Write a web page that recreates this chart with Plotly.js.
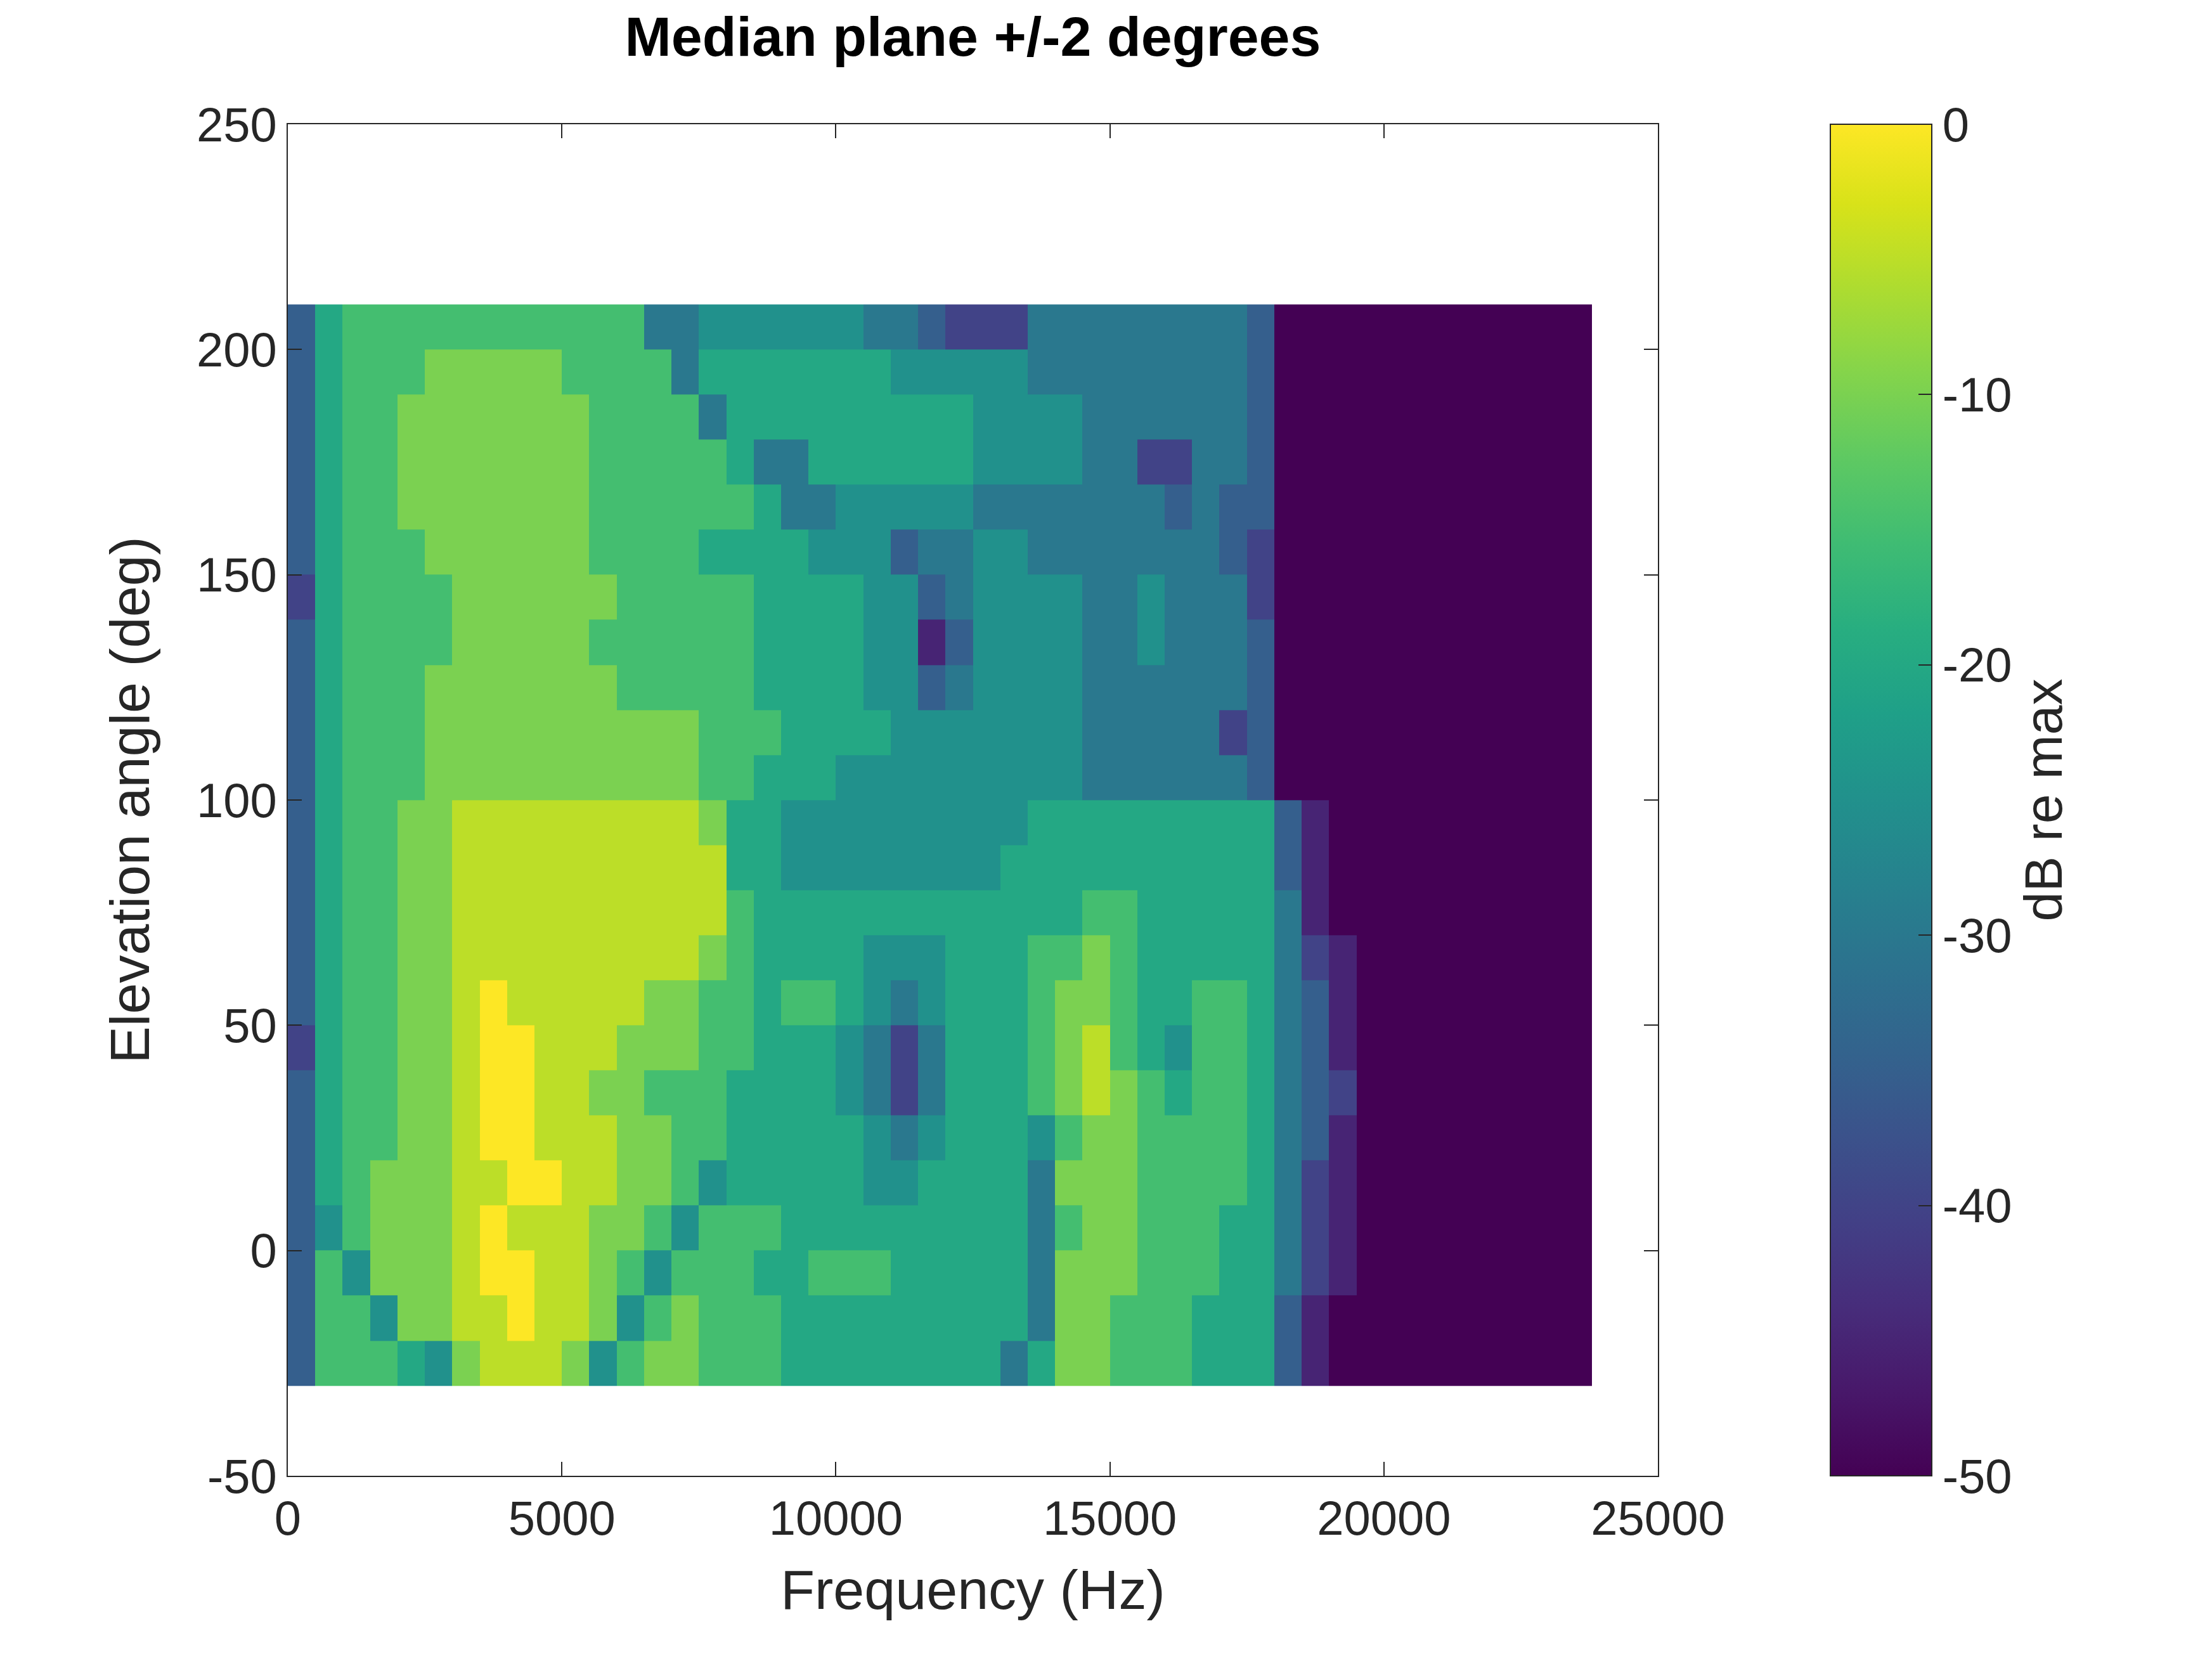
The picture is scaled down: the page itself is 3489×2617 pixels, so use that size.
<!DOCTYPE html>
<html><head><meta charset="utf-8">
<script src="https://cdn.plot.ly/plotly-3.0.1.min.js"></script>
<style>html,body{margin:0;padding:0;background:#fff}</style>
</head><body><div id="chart" style="width:3489px;height:2617px"></div>
<script>
// Frequency bin edges (Hz) and elevation bin edges (deg)
const freqEdges = [0,500,1000,1500,2000,2500,3000,3500,4000,4500,5000,5500,6000,6500,7000,7500,8000,8500,9000,9500,10000,10500,11000,11500,12000,12500,13000,13500,14000,14500,15000,15500,16000,16500,17000,17500,18000,18500,19000,19500,20000,20500,21000,21500,22000,22500,23000,23500,23800];
const elevEdges = [-30,-20,-10,0,10,20,30,40,50,60,70,80,90,100,110,120,130,140,150,160,170,180,190,200,210];
// Level codes per row (bottom to top), one char per frequency bin: dB = -50 + 5*level (A = 10)
const rowLevels = [
"3777658999"+"8578877766"+"6666664688"+"7776663100"+"00000000",
"37758899A9"+"9857877766"+"6666666488"+"7776663100"+"00000000",
"3758889AA9"+"9875777667"+"7766666488"+"8777664210"+"00000000",
"3578889A99"+"9887577766"+"6666666478"+"8777664210"+"00000000",
"36788899AA"+"9988756666"+"6556666488"+"8777764210"+"00000000",
"3677889AA9"+"9988776666"+"6545666578"+"8777764310"+"00000000",
"3677889AA9"+"9887776666"+"5424666789"+"8767764320"+"00000000",
"2677889AA9"+"9988877666"+"5424666789"+"7657764310"+"00000000",
"3677889A99"+"9998877677"+"6545666788"+"7667764310"+"00000000",
"3677889999"+"9999987666"+"6555666778"+"7666664210"+"00000000",
"3677889999"+"9999997666"+"6666666667"+"7666664100"+"00000000",
"3677889999"+"9999996655"+"5555556666"+"6666663100"+"00000000",
"3677889999"+"9999986655"+"5555555666"+"6666663100"+"00000000",
"3677788888"+"8888877666"+"5555555554"+"4444430000"+"00000000",
"3677788888"+"8888877766"+"6655555554"+"4444230000"+"00000000",
"3677788888"+"8877777666"+"6553455554"+"4444430000"+"00000000",
"3677778888"+"8777777666"+"6551355554"+"4544430000"+"00000000",
"2677778888"+"8877777666"+"6553455554"+"4544420000"+"00000000",
"3677788888"+"8777766665"+"5534455444"+"4444320000"+"00000000",
"3677888888"+"8777777644"+"5555544444"+"4434330000"+"00000000",
"3677888888"+"8777776446"+"6666655554"+"4224430000"+"00000000",
"3677888888"+"8777746666"+"6666655554"+"4444430000"+"00000000",
"3677788888"+"7777466666"+"6655555444"+"4444430000"+"00000000",
"3677777777"+"7774455555"+"5443222444"+"4444430000"+"00000000"
];
const xTicks = [0,5000,10000,15000,20000,25000];
const xTickText = ['0','5000','10000','15000','20000','25000'];
const yTicks = [-50,0,50,100,150,200,250];
const yTickText = ['-50','0','50','100','150','200','250'];
const cTicks = [0,-10,-20,-30,-40,-50];
const cTickText = ['0','-10','-20','-30','-40','-50'];

const nCols = freqEdges.length - 1;
const z = rowLevels.map(r => {
  const row = [];
  for (let i = 0; i < nCols; i++) {
    const c = r[i] || '0';
    const lv = c === 'A' ? 10 : parseInt(c, 10);
    row.push(-50 + 5 * lv);
  }
  return row;
});
const fam = 'Liberation Sans, Arial, sans-serif';
const font = {family: fam, color: '#262626', size: 76};
const axisCommon = {
  showgrid: false, zeroline: false, showline: true, mirror: 'ticks',
  linecolor: '#262626', linewidth: 2, ticks: 'inside', ticklen: 22, tickwidth: 2,
  tickcolor: '#262626', tickfont: font
};
Plotly.newPlot('chart', [{
  type: 'heatmap', x: freqEdges, y: elevEdges, z: z,
  colorscale: 'Viridis', zmin: -50, zmax: 0,
  colorbar: {
    x: 1.126, xanchor: 'left', y: 0.5, yanchor: 'middle', len: 1, lenmode: 'fraction', ypad: 0, xpad: 0,
    thickness: 160, thicknessmode: 'pixels', outlinewidth: 2, outlinecolor: '#262626',
    tickvals: cTicks, ticktext: cTickText,
    ticks: 'inside', ticklen: 22, tickwidth: 2, tickcolor: '#262626', tickfont: font,
    ticklabelstandoff: 22,
    title: {text: 'dB re max', side: 'right', font: {family: fam, color: '#262626', size: 84}}
  }
}], {
  width: 3489, height: 2617,
  paper_bgcolor: '#fff', plot_bgcolor: '#fff',
  margin: {l: 454, r: 874, t: 196, b: 289},
  title: {text: '<b>Median plane +/-2 degrees</b>', xref: 'paper', x: 0.5, xanchor: 'center', y: 0.99, yanchor: 'top',
    font: {family: fam, color: '#000', size: 88}},
  xaxis: Object.assign({}, axisCommon, {range: [0, 25000], tickvals: xTicks, ticktext: xTickText,
    title: {text: 'Frequency (Hz)', font: {family: fam, color: '#262626', size: 88}, standoff: 40}}),
  yaxis: Object.assign({}, axisCommon, {range: [-50, 250], tickvals: yTicks, ticktext: yTickText,
    title: {text: 'Elevation angle (deg)', font: {family: fam, color: '#262626', size: 88}, standoff: 45}})
}, {displayModeBar: false});
</script></body></html>
